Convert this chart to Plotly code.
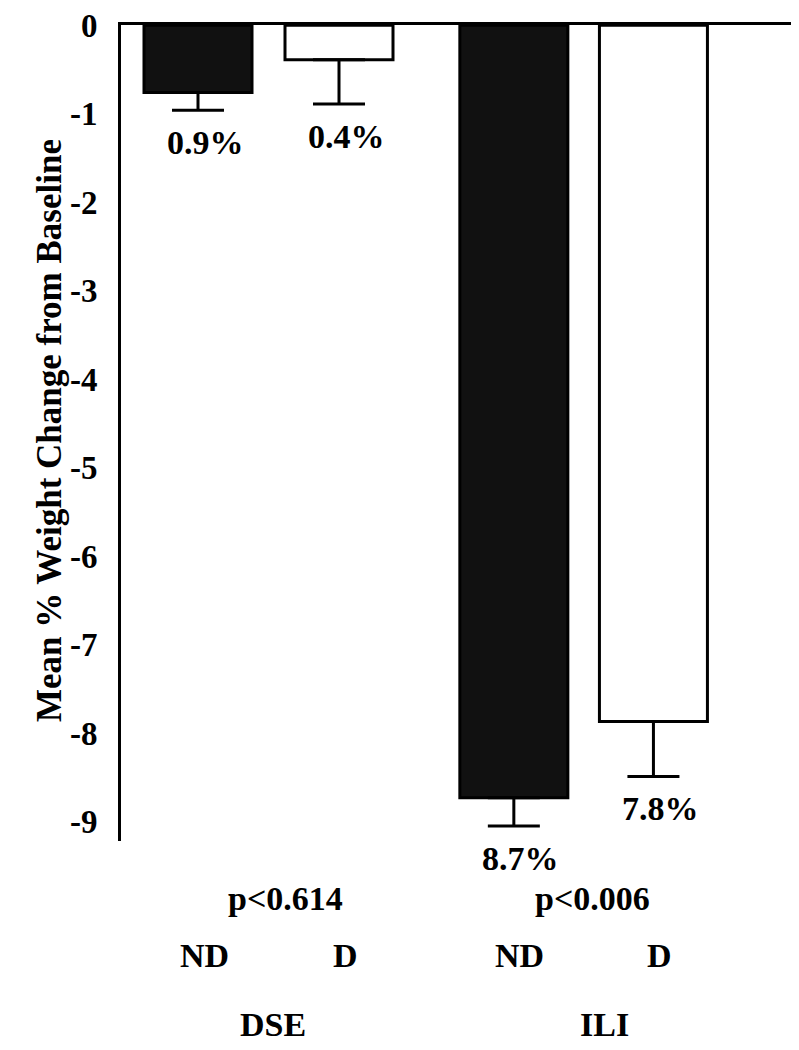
import plotly.graph_objects as go

# ---- data ----
groups = ["DSE", "DSE", "ILI", "ILI"]
subgroups = ["ND", "D", "ND", "D"]
x_pos = [0.0, 1.0, 2.24, 3.23]
values = [-0.76, -0.39, -8.73, -7.87]
errors = [0.20, 0.50, 0.32, 0.62]
pct_labels = ["0.9%", "0.4%", "8.7%", "7.8%"]
fills = ["#111111", "#ffffff", "#111111", "#ffffff"]
group_names = ["DSE", "ILI"]
group_x = [0.53, 2.88]
p_labels = ["p<0.614", "p<0.006"]
p_x = [0.62, 2.80]
y_ticks = [0, -1, -2, -3, -4, -5, -6, -7, -8, -9]

FONT = "Liberation Serif"
W, H = 799, 1050
L, T = 113, 14
plot_h = 819

fig = go.Figure()
fig.add_trace(go.Bar(
    x=x_pos, y=values, width=0.766,
    marker=dict(color=fills, line=dict(color="#000", width=3)),
    error_y=dict(type="data", symmetric=False, array=[0]*4, arrayminus=errors,
                 color="#000", thickness=3, width=26),
    showlegend=False,
))

ann = []
for xv, v, e, t in zip(x_pos, values, errors, pct_labels):
    ann.append(dict(x=xv, y=v - e, xref="x", yref="y", text=f"<b>{t}</b>",
                    showarrow=False, yanchor="top", yshift=-12, xshift=7,
                    font=dict(family=FONT, size=34, color="#000")))
for xv, s in zip(x_pos, subgroups):
    ann.append(dict(x=xv, y=-0.165, xref="x", yref="paper", text=f"<b>{s}</b>",
                    showarrow=False, xshift=6,
                    font=dict(family=FONT, size=34, color="#000")))
for xv, s in zip(p_x, p_labels):
    ann.append(dict(x=xv, y=-0.095, xref="x", yref="paper", text=f"<b>{s}</b>",
                    showarrow=False,
                    font=dict(family=FONT, size=34, color="#000")))
for xv, s in zip(group_x, group_names):
    ann.append(dict(x=xv, y=-0.25, xref="x", yref="paper", text=f"<b>{s}</b>",
                    showarrow=False,
                    font=dict(family=FONT, size=34, color="#000")))
ann.append(dict(x=(20 - L) / (W - L), y=0.503, xref="paper", yref="paper",
                text="<b>Mean % Weight Change from Baseline</b>", textangle=-90,
                showarrow=False,
                font=dict(family=FONT, size=35, color="#000")))

x0 = -(190 - L) / 141.0
x1 = (W - 190) / 141.0
fig.update_layout(
    width=W, height=H,
    margin=dict(l=L, r=0, t=T, b=H - T - plot_h, pad=0),
    paper_bgcolor="white", plot_bgcolor="white",
    xaxis=dict(range=[x0, x1], side="top", showline=True, linecolor="#000",
               linewidth=3, showticklabels=False, ticks="", showgrid=False,
               zeroline=False),
    yaxis=dict(range=[-9.22, 0.004], tickvals=y_ticks,
               ticktext=[f"<b>{v}</b>" for v in y_ticks],
               showline=True, linecolor="#000", linewidth=3, ticks="",
               showgrid=False, zeroline=False, ticklabelstandoff=14,
               ticklabeloverflow="allow",
               tickfont=dict(family=FONT, size=33, color="#000")),
    annotations=ann,
)
fig.write_html("out.html")
